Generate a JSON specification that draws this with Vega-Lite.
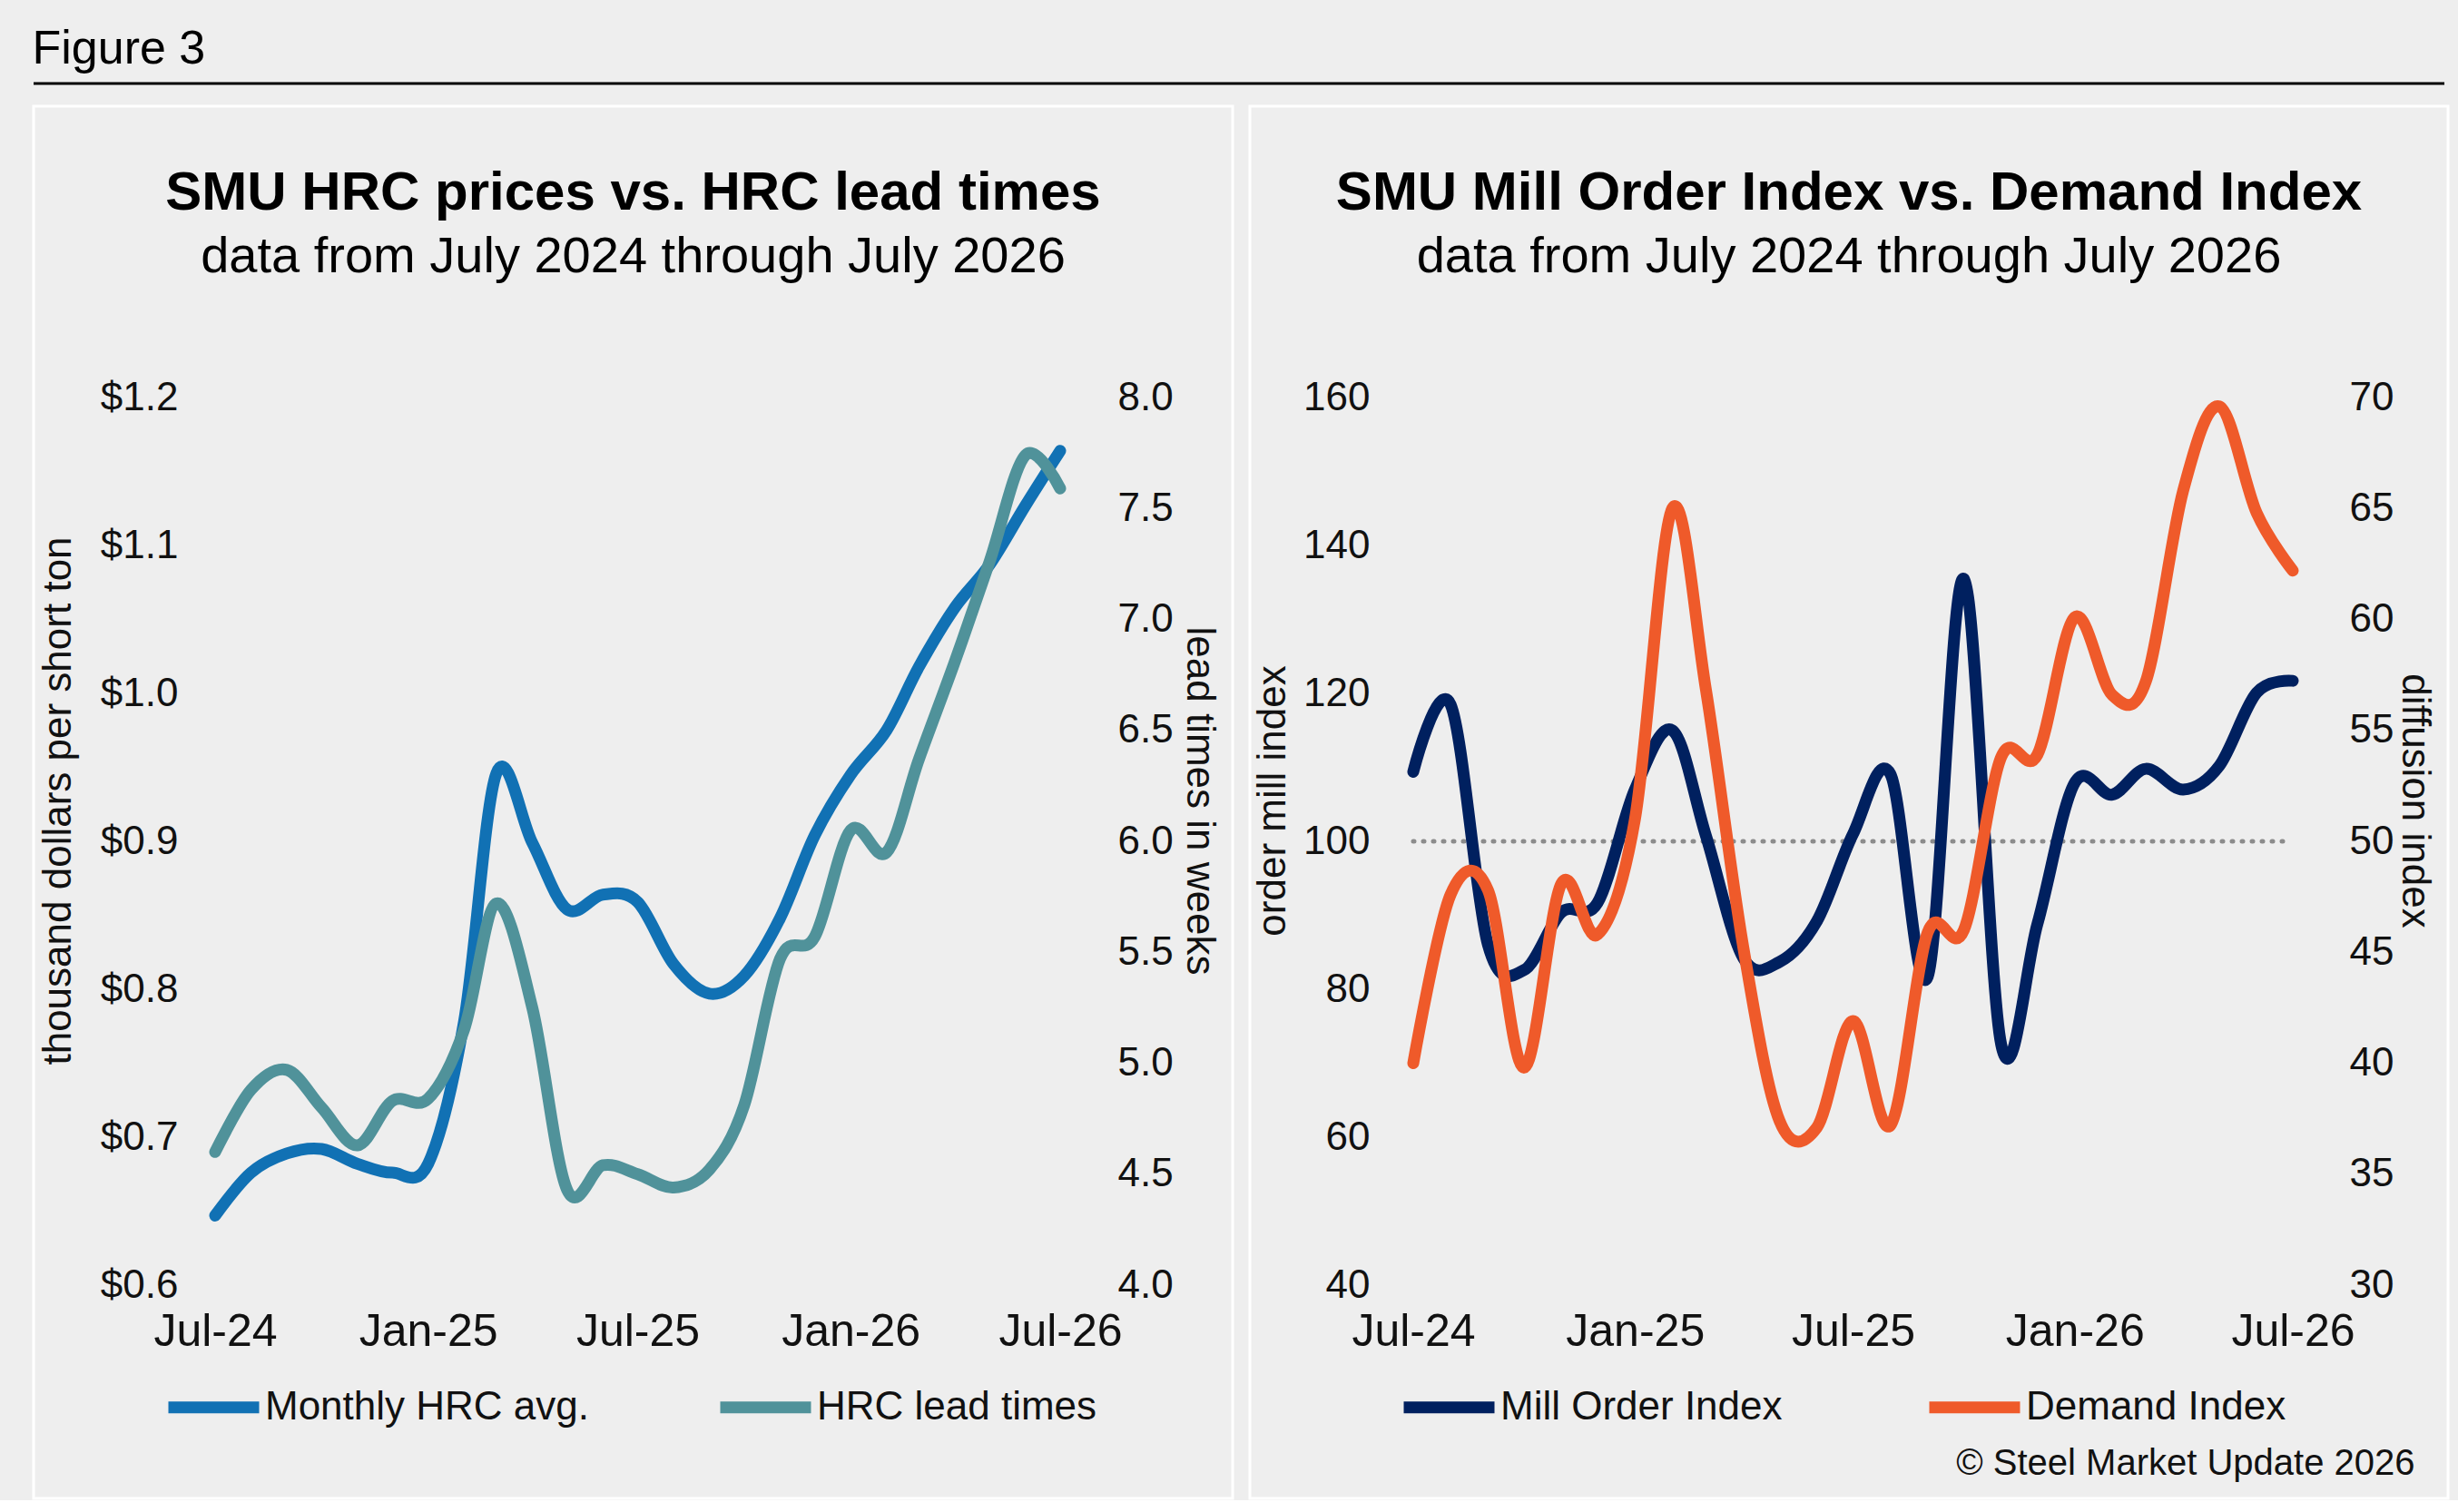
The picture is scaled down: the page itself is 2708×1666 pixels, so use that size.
{
  "$schema": "https://vega.github.io/schema/vega-lite/v6.json",
  "background": "#eeeeee",
  "padding": {"left": 35, "top": 28, "right": 17, "bottom": 0},
  "autosize": {"type": "pad"},
  "config": {
    "font": "Liberation Sans",
    "view": {"stroke": null},
    "axis": {
      "grid": false,
      "ticks": false,
      "domain": false,
      "labelFont": "Liberation Sans",
      "titleFont": "Liberation Sans",
      "labelColor": "#111111",
      "titleColor": "#111111",
      "labelFontSize": 44,
      "titleFontSize": 44,
      "titleFontWeight": "normal",
      "labelFlush": false,
      "labelOverlap": false,
      "labelPadding": 16
    },
    "legend": {
      "title": null,
      "symbolType": "stroke",
      "symbolSize": 10000,
      "symbolStrokeWidth": 13,
      "labelFont": "Liberation Sans",
      "labelFontSize": 44,
      "labelColor": "#111111",
      "labelLimit": 0,
      "labelOffset": 0,
      "padding": 0
    }
  },
  "datasets": {
    "header": [{"pos": 0}],
    "ref": [{"date": "2024-07-01", "end": "2026-06-27", "value": 100}],
    "hrc": [
      {"date": "2024-07-01", "series": "Monthly HRC avg.", "value": 0.647},
      {"date": "2024-08-01", "series": "Monthly HRC avg.", "value": 0.676},
      {"date": "2024-09-01", "series": "Monthly HRC avg.", "value": 0.689},
      {"date": "2024-10-01", "series": "Monthly HRC avg.", "value": 0.692},
      {"date": "2024-11-01", "series": "Monthly HRC avg.", "value": 0.682},
      {"date": "2024-12-01", "series": "Monthly HRC avg.", "value": 0.676},
      {"date": "2025-01-01", "series": "Monthly HRC avg.", "value": 0.682},
      {"date": "2025-02-01", "series": "Monthly HRC avg.", "value": 0.778},
      {"date": "2025-03-01", "series": "Monthly HRC avg.", "value": 0.946},
      {"date": "2025-04-01", "series": "Monthly HRC avg.", "value": 0.899},
      {"date": "2025-05-01", "series": "Monthly HRC avg.", "value": 0.854},
      {"date": "2025-06-01", "series": "Monthly HRC avg.", "value": 0.864},
      {"date": "2025-07-01", "series": "Monthly HRC avg.", "value": 0.859},
      {"date": "2025-08-01", "series": "Monthly HRC avg.", "value": 0.817},
      {"date": "2025-09-01", "series": "Monthly HRC avg.", "value": 0.797},
      {"date": "2025-10-01", "series": "Monthly HRC avg.", "value": 0.809},
      {"date": "2025-11-01", "series": "Monthly HRC avg.", "value": 0.848},
      {"date": "2025-12-01", "series": "Monthly HRC avg.", "value": 0.904},
      {"date": "2026-01-01", "series": "Monthly HRC avg.", "value": 0.945},
      {"date": "2026-02-01", "series": "Monthly HRC avg.", "value": 0.975},
      {"date": "2026-03-01", "series": "Monthly HRC avg.", "value": 1.018},
      {"date": "2026-04-01", "series": "Monthly HRC avg.", "value": 1.058},
      {"date": "2026-05-01", "series": "Monthly HRC avg.", "value": 1.087},
      {"date": "2026-06-01", "series": "Monthly HRC avg.", "value": 1.127},
      {"date": "2026-07-01", "series": "Monthly HRC avg.", "value": 1.164},
      {"date": "2024-07-01", "series": "HRC lead times", "value": 4.60},
      {"date": "2024-08-01", "series": "HRC lead times", "value": 4.88},
      {"date": "2024-09-01", "series": "HRC lead times", "value": 4.97},
      {"date": "2024-10-01", "series": "HRC lead times", "value": 4.80},
      {"date": "2024-11-01", "series": "HRC lead times", "value": 4.63},
      {"date": "2024-12-01", "series": "HRC lead times", "value": 4.83},
      {"date": "2025-01-01", "series": "HRC lead times", "value": 4.84},
      {"date": "2025-02-01", "series": "HRC lead times", "value": 5.15},
      {"date": "2025-03-01", "series": "HRC lead times", "value": 5.72},
      {"date": "2025-04-01", "series": "HRC lead times", "value": 5.25},
      {"date": "2025-05-01", "series": "HRC lead times", "value": 4.43},
      {"date": "2025-06-01", "series": "HRC lead times", "value": 4.54},
      {"date": "2025-07-01", "series": "HRC lead times", "value": 4.50},
      {"date": "2025-08-01", "series": "HRC lead times", "value": 4.44},
      {"date": "2025-09-01", "series": "HRC lead times", "value": 4.52},
      {"date": "2025-10-01", "series": "HRC lead times", "value": 4.81},
      {"date": "2025-11-01", "series": "HRC lead times", "value": 5.47},
      {"date": "2025-12-01", "series": "HRC lead times", "value": 5.57},
      {"date": "2026-01-01", "series": "HRC lead times", "value": 6.05},
      {"date": "2026-02-01", "series": "HRC lead times", "value": 5.95},
      {"date": "2026-03-01", "series": "HRC lead times", "value": 6.37},
      {"date": "2026-04-01", "series": "HRC lead times", "value": 6.81},
      {"date": "2026-05-01", "series": "HRC lead times", "value": 7.26},
      {"date": "2026-06-01", "series": "HRC lead times", "value": 7.74},
      {"date": "2026-07-01", "series": "HRC lead times", "value": 7.59}
    ],
    "smu": [
      {"date": "2024-07-01", "series": "Mill Order Index", "value": 109.4},
      {"date": "2024-08-01", "series": "Mill Order Index", "value": 118.5},
      {"date": "2024-09-01", "series": "Mill Order Index", "value": 86.0},
      {"date": "2024-10-01", "series": "Mill Order Index", "value": 82.6},
      {"date": "2024-11-01", "series": "Mill Order Index", "value": 90.4},
      {"date": "2024-12-01", "series": "Mill Order Index", "value": 91.7},
      {"date": "2025-01-01", "series": "Mill Order Index", "value": 107.0},
      {"date": "2025-02-01", "series": "Mill Order Index", "value": 115.0},
      {"date": "2025-03-01", "series": "Mill Order Index", "value": 100.7},
      {"date": "2025-04-01", "series": "Mill Order Index", "value": 84.2},
      {"date": "2025-05-01", "series": "Mill Order Index", "value": 83.7},
      {"date": "2025-06-01", "series": "Mill Order Index", "value": 89.2},
      {"date": "2025-07-01", "series": "Mill Order Index", "value": 101.0},
      {"date": "2025-08-01", "series": "Mill Order Index", "value": 109.1},
      {"date": "2025-09-01", "series": "Mill Order Index", "value": 81.7},
      {"date": "2025-10-01", "series": "Mill Order Index", "value": 135.5},
      {"date": "2025-11-01", "series": "Mill Order Index", "value": 72.5},
      {"date": "2025-12-01", "series": "Mill Order Index", "value": 88.8},
      {"date": "2026-01-01", "series": "Mill Order Index", "value": 107.9},
      {"date": "2026-02-01", "series": "Mill Order Index", "value": 106.3},
      {"date": "2026-03-01", "series": "Mill Order Index", "value": 109.8},
      {"date": "2026-04-01", "series": "Mill Order Index", "value": 107.0},
      {"date": "2026-05-01", "series": "Mill Order Index", "value": 110.2},
      {"date": "2026-06-01", "series": "Mill Order Index", "value": 120.1},
      {"date": "2026-07-01", "series": "Mill Order Index", "value": 121.7},
      {"date": "2024-07-01", "series": "Demand Index", "value": 40.0},
      {"date": "2024-08-01", "series": "Demand Index", "value": 47.6},
      {"date": "2024-09-01", "series": "Demand Index", "value": 47.8},
      {"date": "2024-10-01", "series": "Demand Index", "value": 39.8},
      {"date": "2024-11-01", "series": "Demand Index", "value": 48.1},
      {"date": "2024-12-01", "series": "Demand Index", "value": 45.8},
      {"date": "2025-01-01", "series": "Demand Index", "value": 51.0},
      {"date": "2025-02-01", "series": "Demand Index", "value": 65.0},
      {"date": "2025-03-01", "series": "Demand Index", "value": 56.8},
      {"date": "2025-04-01", "series": "Demand Index", "value": 45.2},
      {"date": "2025-05-01", "series": "Demand Index", "value": 37.4},
      {"date": "2025-06-01", "series": "Demand Index", "value": 37.1},
      {"date": "2025-07-01", "series": "Demand Index", "value": 41.9},
      {"date": "2025-08-01", "series": "Demand Index", "value": 37.2},
      {"date": "2025-09-01", "series": "Demand Index", "value": 45.9},
      {"date": "2025-10-01", "series": "Demand Index", "value": 46.0},
      {"date": "2025-11-01", "series": "Demand Index", "value": 53.8},
      {"date": "2025-12-01", "series": "Demand Index", "value": 53.9},
      {"date": "2026-01-01", "series": "Demand Index", "value": 60.1},
      {"date": "2026-02-01", "series": "Demand Index", "value": 56.6},
      {"date": "2026-03-01", "series": "Demand Index", "value": 57.2},
      {"date": "2026-04-01", "series": "Demand Index", "value": 65.8},
      {"date": "2026-05-01", "series": "Demand Index", "value": 69.6},
      {"date": "2026-06-01", "series": "Demand Index", "value": 64.8},
      {"date": "2026-07-01", "series": "Demand Index", "value": 62.2}
    ]
  },
  "spacing": 21,
  "vconcat": [
    {
      "width": 2656,
      "height": 2,
      "title": {"text": "Figure 3", "anchor": "start", "fontSize": 52, "fontWeight": "normal", "color": "#000000", "offset": 9},
      "data": {"name": "header"},
      "mark": {"type": "rule", "color": "#000000", "strokeWidth": 3},
      "encoding": {
        "y": {"field": "pos", "type": "quantitative", "scale": {"domain": [0, 1]}, "axis": null}
      }
    },
    {
      "spacing": 15,
      "resolve": {"scale": {"color": "independent"}, "legend": {"color": "independent"}},
      "hconcat": [
        {
          "width": 1321,
          "height": 1534,
          "view": {"fill": "#eeeeee", "stroke": "#ffffff", "strokeWidth": 3},
          "title": {
            "text": "SMU HRC prices vs. HRC lead times",
            "subtitle": "data from July 2024 through July 2026",
            "anchor": "middle",
            "frame": "group",
            "offset": -195,
            "fontSize": 60,
            "fontWeight": "bold",
            "color": "#000000",
            "subtitleFontSize": 56,
            "subtitleColor": "#000000",
            "subtitleFont": "Liberation Sans",
            "subtitlePadding": 12
          },
          "data": {"name": "hrc"},
          "encoding": {
            "x": {
              "field": "date",
              "type": "temporal",
              "scale": {
                "type": "utc",
                "domain": [{"year": 2024, "month": 7, "date": 1, "utc": true}, {"year": 2026, "month": 7, "date": 1, "utc": true}],
                "range": [200, 1131]
              },
              "axis": {
                "title": null,
                "format": "%b-%y",
                "offset": -235,
                "labelFontSize": 50,
                "labelPadding": 26,
                "values": [
                  {"year": 2024, "month": 7, "date": 1, "utc": true},
                  {"year": 2025, "month": 1, "date": 1, "utc": true},
                  {"year": 2025, "month": 7, "date": 1, "utc": true},
                  {"year": 2026, "month": 1, "date": 1, "utc": true},
                  {"year": 2026, "month": 7, "date": 1, "utc": true}
                ]
              }
            }
          },
          "layer": [
            {
              "transform": [{"filter": "datum.series === 'Monthly HRC avg.'"}],
              "mark": {"type": "line", "strokeWidth": 13, "interpolate": "cardinal", "strokeCap": "round", "strokeJoin": "round"},
              "encoding": {
                "y": {
                  "field": "value",
                  "type": "quantitative",
                  "scale": {"domain": [0.6, 1.2], "range": [1299, 321], "zero": false},
                  "axis": {
                    "title": "thousand dollars per short ton",
                    "format": "$.1f",
                    "values": [0.6, 0.7, 0.8, 0.9, 1.0, 1.1, 1.2],
                    "offset": -175,
                    "titleX": -135,
                    "titleY": 765,
                    "titleBaseline": "alphabetic"
                  }
                },
                "color": {
                  "field": "series",
                  "type": "nominal",
                  "scale": {"domain": ["Monthly HRC avg.", "HRC lead times"], "range": ["#1171b4", "#50929a"]},
                  "legend": {"orient": "none", "legendX": 142, "legendY": 1377, "direction": "horizontal", "columnPadding": 117}
                }
              }
            },
            {
              "transform": [{"filter": "datum.series === 'HRC lead times'"}],
              "mark": {"type": "line", "strokeWidth": 13, "interpolate": "cardinal", "strokeCap": "round", "strokeJoin": "round"},
              "encoding": {
                "y": {
                  "field": "value",
                  "type": "quantitative",
                  "scale": {"domain": [4, 8], "range": [1299, 321], "zero": false},
                  "axis": {
                    "orient": "right",
                    "title": "lead times in weeks",
                    "format": ".1f",
                    "values": [4, 4.5, 5, 5.5, 6, 6.5, 7, 7.5, 8],
                    "offset": -143,
                    "titleX": 92,
                    "titleY": 765,
                    "titleBaseline": "alphabetic"
                  }
                },
                "color": {
                  "field": "series",
                  "type": "nominal",
                  "scale": {"domain": ["Monthly HRC avg.", "HRC lead times"], "range": ["#1171b4", "#50929a"]},
                  "legend": {"orient": "none", "legendX": 142, "legendY": 1377, "direction": "horizontal", "columnPadding": 117}
                }
              }
            }
          ],
          "resolve": {"scale": {"y": "independent"}}
        },
        {
          "width": 1320,
          "height": 1534,
          "view": {"fill": "#eeeeee", "stroke": "#ffffff", "strokeWidth": 3},
          "title": {
            "text": "SMU Mill Order Index vs. Demand Index",
            "subtitle": "data from July 2024 through July 2026",
            "anchor": "middle",
            "frame": "group",
            "offset": -195,
            "fontSize": 60,
            "fontWeight": "bold",
            "color": "#000000",
            "subtitleFontSize": 56,
            "subtitleColor": "#000000",
            "subtitleFont": "Liberation Sans",
            "subtitlePadding": 12
          },
          "data": {"name": "smu"},
          "encoding": {
            "x": {
              "field": "date",
              "type": "temporal",
              "scale": {
                "type": "utc",
                "domain": [{"year": 2024, "month": 7, "date": 1, "utc": true}, {"year": 2026, "month": 7, "date": 1, "utc": true}],
                "range": [180, 1149]
              },
              "axis": {
                "title": "© Steel Market Update 2026",
                "titleFontSize": 40,
                "titleX": 1283,
                "titleY": 196,
                "titleAlign": "right",
                "titleBaseline": "middle",
                "format": "%b-%y",
                "offset": -235,
                "labelFontSize": 50,
                "labelPadding": 26,
                "values": [
                  {"year": 2024, "month": 7, "date": 1, "utc": true},
                  {"year": 2025, "month": 1, "date": 1, "utc": true},
                  {"year": 2025, "month": 7, "date": 1, "utc": true},
                  {"year": 2026, "month": 1, "date": 1, "utc": true},
                  {"year": 2026, "month": 7, "date": 1, "utc": true}
                ]
              }
            }
          },
          "layer": [
            {
              "encoding": {
                "y": {
                  "field": "value",
                  "type": "quantitative",
                  "scale": {"domain": [40, 160], "range": [1299, 321], "zero": false},
                  "axis": {
                    "title": "order mill index",
                    "values": [40, 60, 80, 100, 120, 140, 160],
                    "offset": -148,
                    "titleX": -110,
                    "titleY": 765,
                    "titleBaseline": "alphabetic"
                  }
                }
              },
              "layer": [
                {
                  "data": {"name": "ref"},
                  "mark": {"type": "rule", "color": "#8c8c8c", "strokeWidth": 5, "strokeDash": [1, 10], "strokeCap": "round"},
                  "encoding": {"x2": {"field": "end"}}
                },
                {
                  "transform": [{"filter": "datum.series === 'Mill Order Index'"}],
                  "mark": {"type": "line", "strokeWidth": 13, "interpolate": "cardinal", "strokeCap": "round", "strokeJoin": "round"},
                  "encoding": {
                    "color": {
                      "field": "series",
                      "type": "nominal",
                      "scale": {"domain": ["Mill Order Index", "Demand Index"], "range": ["#00205f", "#ef5a2a"]},
                      "legend": {"orient": "none", "legendX": 163, "legendY": 1377, "direction": "horizontal", "columnPadding": 135}
                    }
                  }
                }
              ]
            },
            {
              "transform": [{"filter": "datum.series === 'Demand Index'"}],
              "mark": {"type": "line", "strokeWidth": 13, "interpolate": "cardinal", "strokeCap": "round", "strokeJoin": "round"},
              "encoding": {
                "y": {
                  "field": "value",
                  "type": "quantitative",
                  "scale": {"domain": [30, 70], "range": [1299, 321], "zero": false},
                  "axis": {
                    "orient": "right",
                    "title": "diffusion index",
                    "values": [30, 35, 40, 45, 50, 55, 60, 65, 70],
                    "offset": -125,
                    "titleX": 74,
                    "titleY": 765,
                    "titleBaseline": "alphabetic"
                  }
                },
                "color": {
                  "field": "series",
                  "type": "nominal",
                  "scale": {"domain": ["Mill Order Index", "Demand Index"], "range": ["#00205f", "#ef5a2a"]},
                  "legend": {"orient": "none", "legendX": 163, "legendY": 1377, "direction": "horizontal", "columnPadding": 135}
                }
              }
            }
          ],
          "resolve": {"scale": {"y": "independent"}}
        }
      ]
    }
  ]
}
